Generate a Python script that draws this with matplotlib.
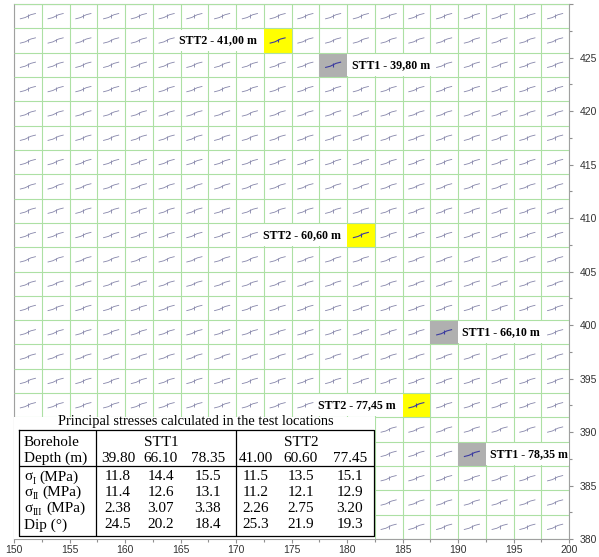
import numpy as np
import matplotlib
matplotlib.use("Agg")
import matplotlib.pyplot as plt
from matplotlib.patches import Rectangle
from matplotlib.collections import LineCollection

# map extent (m) and trajectory sampling grid
x_min, x_max = 150, 200
y_min, y_max = 380, 430
n_cols, n_rows = 20, 22
trajectory_angle_deg = 22  # apparent dip of the sigma-I trajectories

# test locations: borehole, depth label, grid column, grid row (row counted from top)
loc_borehole = ["STT1", "STT1", "STT1", "STT2", "STT2", "STT2"]
loc_depth = ["39,80", "66,10", "78,35", "41,00", "60,60", "77,45"]
loc_col = [11, 15, 16, 9, 12, 14]
loc_row = [2, 13, 18, 1, 9, 16]

# principal stresses calculated at the test locations
table_boreholes = ["STT1", "STT2"]
depth_stt1 = [39.80, 66.10, 78.35]
depth_stt2 = [41.00, 60.60, 77.45]
sigma1 = [11.8, 14.4, 15.5, 11.5, 13.5, 15.1]
sigma2 = [11.4, 12.6, 13.1, 11.2, 12.1, 12.9]
sigma3 = [2.38, 3.07, 3.38, 2.26, 2.75, 3.20]
dip = [24.5, 20.2, 18.4, 25.3, 21.9, 19.3]

W, H = 599, 557
fig = plt.figure(figsize=(W / 100, H / 100), dpi=100)
ax_w, ax_h = 555, 535
ax = fig.add_axes([14 / W, 18 / H, ax_w / W, ax_h / H])
ax.set_xlim(x_min, x_max)
ax.set_ylim(y_min, y_max)

cw = (x_max - x_min) / n_cols
rh = (y_max - y_min) / n_rows
sx = ax_w / (x_max - x_min)   # pixels per metre
sy = ax_h / (y_max - y_min)

grid_col = '#ade0a4'
ax.vlines(x_min + cw * np.arange(n_cols + 1), y_min, y_max, color=grid_col, lw=0.8, zorder=1)
ax.hlines(y_min + rh * np.arange(n_rows + 1), x_min, x_max, color=grid_col, lw=0.8, zorder=5)

# trajectory glyph (pixel offsets): segment kinked steeper in the middle, with a centre tick
t = np.tan(np.radians(trajectory_angle_deg))
shape = np.array([[-8.0, -8.0 * t * 0.85], [-2.8, -2.8 * t * 1.25],
                  [2.8, 2.8 * t * 1.25], [8.0, 8.0 * t * 0.85]])
tick = np.array([[0.0, -1.8], [0.0, 1.8]])

hl = set(zip(loc_col, loc_row))
segs, segs_hl = [], []
for c in range(n_cols):
    for r in range(n_rows):
        cx = x_min + (c + 0.5) * cw
        cy = y_max - (r + 0.5) * rh
        for part in (shape, tick):
            pts = np.column_stack([cx + part[:, 0] / sx, cy + part[:, 1] / sy])
            (segs_hl if (c, r) in hl else segs).append(pts)
ax.add_collection(LineCollection(segs, colors='#8686aa', lw=0.6, zorder=3))
ax.add_collection(LineCollection(segs_hl, colors='#3c3ca0', lw=0.8, zorder=3.5))

# highlighted test cells and their labels
for b, d, c, r in zip(loc_borehole, loc_depth, loc_col, loc_row):
    x0 = x_min + c * cw
    y0 = y_max - (r + 1) * rh
    fc = '#b0b0b0' if b == "STT1" else '#ffff00'
    ax.add_patch(Rectangle((x0, y0), cw, rh, facecolor=fc, edgecolor='none', zorder=2))
    box_w = 8.0
    m = 0.12
    if b == "STT1":
        bx = x0 + cw
        tx, ha = bx + 4.5 / sx, 'left'
    else:
        bx = x0 - box_w
        tx, ha = x0 - 6.5 / sx, 'right'
    ax.add_patch(Rectangle((bx, y0 + m), box_w, rh - 2 * m, facecolor='white',
                           edgecolor='none', zorder=4))
    ax.text(tx, y0 + rh / 2, f"{b} - {d} m", ha=ha, va='center', fontsize=8.6,
            fontweight='bold', family='Liberation Serif', color='black', zorder=6)

# white panel holding the table
ax.add_patch(Rectangle((x_min, y_min), 13 * cw, 5 * rh, facecolor='white',
                       edgecolor='none', zorder=6))

# axes styling
spine_col = '#a0a0a0'
for s in ax.spines.values():
    s.set_color(spine_col)
    s.set_linewidth(0.8)
ax.set_xticks(np.arange(150, 201, 5))
ax.set_xticks(np.arange(152.5, 200, 5), minor=True)
ax.yaxis.tick_right()
yt = np.arange(380, 431, 5)
ax.set_yticks(yt)
ax.set_yticklabels([str(v) if v < 430 else '' for v in yt])
ax.set_yticks(np.arange(382.5, 430, 5), minor=True)
ax.tick_params(axis='both', which='major', length=3.0, width=0.8, color='#909090',
               labelsize=7.5, labelcolor='#333333')
ax.tick_params(axis='x', which='major', pad=1.0)
ax.tick_params(axis='y', which='major', pad=4.5)
ax.tick_params(axis='both', which='minor', length=2.0, width=0.8, color='#909090')
for lab in ax.get_xticklabels() + ax.get_yticklabels():
    lab.set_family('Liberation Sans')

# table of principal stresses
tl, tr, tb, tt = 19, 374, 536, 430
tax = fig.add_axes([tl / W, (H - tb) / H, (tr - tl) / W, (tb - tt) / H], zorder=5)
tax.set_xlim(tl, tr)
tax.set_ylim(tb, tt)
tax.axis('off')
tax.patch.set_alpha(0)
lk = dict(color='black', lw=0.9)
tax.plot([tl, tr, tr, tl, tl], [tt, tt, tb, tb, tt], **lk, clip_on=False)
tax.plot([96, 96], [tt, tb], **lk)
tax.plot([236, 236], [tt, tb], **lk)
tax.plot([tl, tr], [466, 466], **lk)

tf = dict(family='Liberation Serif', fontsize=11, color='black')
col_x = [118, 161, 208, 256, 301, 350]
row_y = [442, 458, 477, 492, 508, 525]

tax.text(24, row_y[0], "Borehole", ha='left', va='center', **tf)
tax.text(24, row_y[1], "Depth (m)", ha='left', va='center', **tf)
tax.text(24, row_y[5], "Dip (°)", ha='left', va='center', **tf)
# sigma labels: symbol, small Roman-numeral subscript, then the unit
for sub, y in zip(["I", "II", "III"], row_y[2:5]):
    sym = tax.text(24, y, "σ", ha='left', va='center', **tf)
    st = tax.annotate(sub, xy=(1, 0), xycoords=sym, xytext=(0.3, -1.6),
                      textcoords='offset points', ha='left', va='bottom',
                      family='Liberation Serif', fontsize=7, color='black')
    tax.annotate("(MPa)", xy=(1, 0.5), xycoords=(st, sym), xytext=(2.8, 0),
                 textcoords='offset points', ha='left', va='center', **tf)

tax.text(161, row_y[0], table_boreholes[0], ha='center', va='center', **tf)
tax.text(301, row_y[0], table_boreholes[1], ha='center', va='center', **tf)
depths = depth_stt1 + depth_stt2
rows = [[f"{v:.2f}" for v in depths],
        [f"{v:.1f}" for v in sigma1],
        [f"{v:.1f}" for v in sigma2],
        [f"{v:.2f}" for v in sigma3],
        [f"{v:.1f}" for v in dip]]
for vals, y in zip(rows, row_y[1:]):
    for v, x in zip(vals, col_x):
        tax.text(x, y, v, ha='center', va='center', **tf)

fig.text(196 / W, 1 - 422 / H, "Principal stresses calculated in the test locations",
         ha='center', va='center', family='Liberation Serif', fontsize=10.4, zorder=10)

fig.savefig("out.png", dpi=100)
